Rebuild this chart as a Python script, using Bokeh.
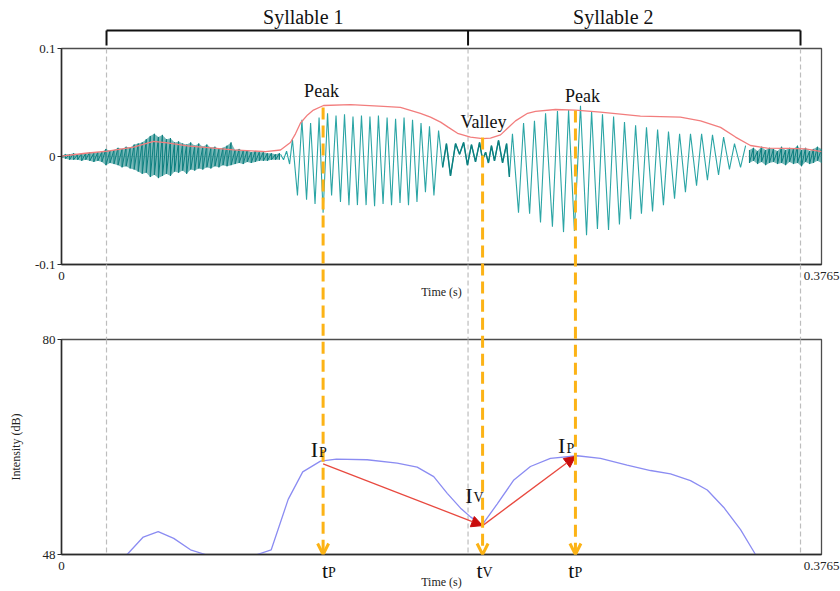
import math
from bokeh.plotting import figure
from bokeh.layouts import column
from bokeh.models import (Range1d, FixedTicker, Arrow, OpenHead, NormalHead, Span)
from bokeh.core.properties import value
from bokeh.embed import file_html
from bokeh.resources import INLINE

# ---------------- data ----------------
T_END = 0.3765
TIME_TICKS = [0, 0.3765]
WAVE_TICKS = [-0.1, 0, 0.1]
INT_TICKS = [48, 80]

# low-level noise before syllable 1 (ms, upper, lower)
noise1_ms = [0, 2, 4, 6, 8, 10, 12, 14, 16, 18, 20, 22, 24, 26, 28, 30, 32, 34, 36, 38,
             40, 42, 44, 46, 48, 50, 52, 54, 56, 58, 60, 62, 64, 66, 68, 70, 72, 74, 76, 78,
             80, 82, 84, 86, 88, 90, 92, 94, 96, 98, 100, 102, 104, 106, 108]
noise1_hi = [.001, .002, .002, .003, .002, .003, .003, .004, .003, .004,
             .004, .007, .005, .006, .008, .007, .009, .008, .011, .012,
             .013, .016, .019, .021, .018, .020, .016, .017, .013, .014,
             .012, .011, .013, .010, .012, .009, .011, .008, .009, .007,
             .008, .010, .013, .006, .007, .005, .006, .004, .005, .004,
             .004, .003, .003, .002, .003]
noise1_lo = [-.001, -.002, -.003, -.003, -.003, -.004, -.003, -.004, -.005, -.004,
             -.005, -.008, -.006, -.007, -.008, -.010, -.009, -.011, -.012, -.014,
             -.016, -.015, -.019, -.017, -.020, -.018, -.016, -.018, -.014, -.015,
             -.013, -.016, -.012, -.013, -.011, -.012, -.010, -.011, -.009, -.010,
             -.008, -.009, -.008, -.007, -.006, -.007, -.005, -.006, -.005, -.004,
             -.004, -.004, -.003, -.003, -.003]

# voiced part of syllable 1 (extrema, ms / amplitude)
syl1_ms = [108.5, 110.0, 111.5, 113.0, 114.4, 116.9, 119.1, 121.4, 123.4, 125.6,
           127.6, 129.6, 131.8, 133.8, 136.0, 138.2, 140.2, 142.4, 144.4, 146.6,
           148.6, 150.9, 152.8, 155.1, 157.0, 159.3, 161.3, 163.5, 165.5, 167.7,
           169.7, 171.9, 173.9, 176.1, 178.1, 180.3, 182.3, 184.5, 186.8]
syl1_v = [0.002, -0.003, 0.005, -0.007, 0.016, -0.036, 0.034, -0.040, 0.031, -0.044,
          0.036, -0.052, 0.040, -0.036, 0.038, -0.042, 0.039, -0.045, 0.037, -0.045,
          0.038, -0.045, 0.037, -0.046, 0.038, -0.044, 0.036, -0.045, 0.035, -0.043,
          0.036, -0.045, 0.034, -0.042, 0.031, -0.033, 0.028, -0.036, 0.024]

# transition around the valley
valley_ms = [188.8, 190.7, 192.7, 195.2, 197.2, 199.2, 201.1, 203.1, 205.1, 207.1,
             208.6, 210.1, 211.5, 213.0, 214.5, 216.5, 218.5, 220.5, 221.9]
valley_v = [-0.010, 0.012, -0.018, 0.012, 0.002, 0.013, -0.008, 0.011, -0.005, 0.013,
            -0.003, 0.004, -0.006, 0.010, -0.004, 0.015, -0.006, 0.012, -0.019]

# voiced part of syllable 2
syl2_ms = [223.4, 226.4, 228.9, 231.9, 234.3, 237.3, 239.8, 243.2, 245.7, 248.7,
           251.2, 254.1, 257.1, 260.1, 262.6, 265.5, 268.0, 271.0, 273.5, 276.4,
           278.9, 281.9, 284.4, 287.3, 289.8, 292.8, 295.3, 298.2, 300.7, 303.7,
           306.2, 309.1, 311.6, 314.6, 317.1, 320.0, 322.5, 325.5, 328.0, 330.9,
           333.4, 336.4, 338.9]
syl2_v = [0.021, -0.052, 0.031, -0.053, 0.033, -0.061, 0.040, -0.065, 0.042, -0.070,
          0.043, -0.069, 0.047, -0.073, 0.042, -0.067, 0.039, -0.068, 0.037, -0.063,
          0.032, -0.058, 0.029, -0.053, 0.027, -0.051, 0.025, -0.045, 0.023, -0.039,
          0.021, -0.033, 0.021, -0.027, 0.021, -0.022, 0.020, -0.017, 0.018, -0.012,
          0.012, -0.010, 0.010]

# trailing noise
noise2_ms = [340.8, 342.8, 344.8, 346.8, 348.8, 350.7, 352.7, 354.7, 356.7, 358.7,
             360.7, 362.6, 364.6, 366.6, 368.6, 370.6, 372.5, 374.5, 376.5]
noise2_hi = [.006, .008, .005, .009, .006, .008, .007, .005, .009, .006,
             .008, .007, .010, .006, .008, .005, .007, .009, .007]
noise2_lo = [-.006, -.004, -.007, -.005, -.008, -.006, -.005, -.007, -.006, -.008,
             -.005, -.007, -.006, -.009, -.005, -.007, -.006, -.004, -.006]

# amplitude envelope
env_ms = [0, 11.9, 22.8, 35.7, 45.6, 52.5, 62.4, 85.2, 101.1, 108.5,
          113.4, 115.9, 118.4, 121.9, 124.8, 129.8, 143.2, 159.5, 167.9, 177.8,
          182.8, 187.8, 191.7, 196.2, 202.6, 208.6, 212.5, 217.5, 221.5, 224.9,
          230.9, 234.8, 244.7, 254.6, 267.0, 286.8, 306.6, 316.6, 326.5, 333.9,
          341.3, 349.7, 359.7, 368.6, 376.5]
env_v = [0.0003, 0.0030, 0.0050, 0.0086, 0.0140, 0.0127, 0.0099, 0.0062, 0.0045, 0.0060,
         0.0130, 0.0210, 0.0310, 0.0385, 0.0430, 0.0472, 0.0480, 0.0465, 0.0455, 0.0400,
         0.0365, 0.0318, 0.0270, 0.0215, 0.0180, 0.0165, 0.0170, 0.0200, 0.0270, 0.0330,
         0.0400, 0.0417, 0.0435, 0.0430, 0.0410, 0.0373, 0.0364, 0.0330, 0.0270, 0.0180,
         0.0102, 0.0077, 0.0075, 0.0070, 0.0045]

# intensity contour (dB)
int_ms = [27.7, 32.5, 40.5, 47.9, 55.6, 63.9, 71.3, 76.3, 91.2, 96.9,
          103.9, 112.3, 119.5, 128.3, 136.2, 151.4, 166.3, 176.2, 184.4, 191.1,
          197.7, 202.6, 208.4, 215.8, 224.1, 232.3, 242.2, 255.5, 267.0, 280.2,
          291.8, 301.7, 311.6, 319.9, 328.1, 336.4, 343.8, 348.8]
int_db = [46.8, 48.0, 50.6, 51.4, 50.4, 48.7, 48.0, 46.5, 46.5, 48.0,
          48.7, 56.2, 60.3, 61.9, 62.2, 62.1, 61.6, 61.0, 59.6, 57.1,
          54.9, 53.6, 52.4, 55.5, 59.1, 61.1, 62.3, 62.7, 62.3, 61.3,
          60.5, 60.0, 59.0, 57.6, 55.0, 51.7, 48.0, 46.5]

# syllable boundaries (ms)
bound_ms = [22.3, 201.4, 366.1]
syllable_names = ["Syllable 1", "Syllable 2"]

# peak / valley / peak landmarks
mark_ms = [129.6, 208.6, 254.6]
mark_env = [0.0454, 0.0176, 0.0426]
mark_db = [61.5, 52.3, 62.6]
mark_names = ["Peak", "Valley", "Peak"]
mark_sub = ["P", "V", "P"]

# ---------------- style ----------------
SERIF = "Liberation Serif"
TEAL = "#2ba5a5"
DARK_TEAL = "#0c7f7f"
ENV_RED = "#f27d7d"
BLUE = "#8b8cf2"
ORANGE = "#fcb316"
GRAY = "#bdbdbd"
AX = "#2b2b2b"
INK = "#111111"

W = 840
H1, H2 = 310, 281
LEFT, RIGHT = 61, 19
TOP1, FRAME_H, BOT1 = 48, 216, 46
TOP2, BOT2 = 29, 36
PX_PER_WAVE = FRAME_H / 0.2          # px per amplitude unit (top panel)
PX_PER_DB = FRAME_H / 32.0           # px per dB (bottom panel)

def s(lst):
    return [v / 1000.0 for v in lst]

bound_t = s(bound_ms)
mark_t = s(mark_ms)


def style(p):
    p.grid.visible = False
    p.background_fill_color = "white"
    p.border_fill_color = "white"
    p.outline_line_color = "#4d4d4d"
    p.outline_line_width = 1.3
    for ax in (p.xaxis[0], p.yaxis[0]):
        ax.axis_line_color = AX
        ax.axis_line_width = 1.5
        ax.major_tick_line_color = AX
        ax.major_tick_in = 0
        ax.minor_tick_line_color = None
        ax.major_label_text_font = SERIF
        ax.major_label_text_font_size = "13px"
        ax.major_label_text_color = "#222222"
        ax.axis_label_text_font = SERIF
        ax.axis_label_text_font_style = "normal"
        ax.axis_label_text_font_size = "12px"
        ax.axis_label_text_color = "#222222"
    xa = p.xaxis[0]
    xa.ticker = FixedTicker(ticks=TIME_TICKS)
    xa.major_label_overrides = {TIME_TICKS[0]: "0", TIME_TICKS[1]: "0.3765"}
    xa.major_tick_out = 0
    xa.major_label_standoff = 7
    xa.axis_label = "Time (s)"
    xa.axis_label_standoff = 2
    ya = p.yaxis[0]
    ya.major_tick_out = 4
    ya.major_label_standoff = 2


def txt(p, x, y, t, size, align, dx=0, dy=0):
    """dy: offset (px, downwards) of the text baseline from the anchor point."""
    p.text(x=[x], y=[y], text=[t], x_offset=dx, y_offset=dy - 0.34 * size,
           text_align=align, text_baseline="middle", text_font=value(SERIF),
           text_font_size=f"{size}px", text_color=INK, level="overlay")


# ---------------- top panel: waveform ----------------
p1 = figure(width=W, height=H1, x_range=Range1d(0, T_END), y_range=Range1d(-0.1, 0.1),
            output_backend="svg", toolbar_location=None, tools="",
            min_border_left=LEFT, min_border_right=RIGHT,
            min_border_top=TOP1, min_border_bottom=BOT1)
style(p1)
p1.yaxis[0].ticker = FixedTicker(ticks=WAVE_TICKS)
p1.yaxis[0].major_label_overrides = {-0.1: "-0.1", 0: "0", 0.1: "0.1"}

p1.add_layout(Span(location=0, dimension="width", line_color="#9a9a9a",
                   line_dash="1 2", line_width=1, level="underlay"))
# syllable boundaries inside the frame (under the waveform)
p1.segment(x0=bound_t, x1=bound_t, y0=[0.1] * 3, y1=[-0.1] * 3,
           line_color=GRAY, line_width=1.2, line_dash="5 3")

# noise bands drawn as a dense band plus hairy strokes
for n_ms, hi, lo in ((noise1_ms, noise1_hi, noise1_lo), (noise2_ms, noise2_hi, noise2_lo)):
    nt = s(n_ms)
    p1.varea(x=nt, y1=lo, y2=hi, fill_color=DARK_TEAL, fill_alpha=0.55)
    zx, zy = [], []
    for t, a, b in zip(nt, hi, lo):
        zx += [t, t]
        zy += [a, b]
    p1.line(zx, zy, line_color=DARK_TEAL, line_width=1)

wave_ms = syl1_ms + valley_ms + syl2_ms
wave_v = syl1_v + valley_v + syl2_v
p1.line(s(wave_ms), wave_v, line_color=TEAL, line_width=1.1)
p1.line(s(valley_ms), valley_v, line_color=DARK_TEAL, line_width=1.4)

p1.line(s(env_ms), env_v, line_color=ENV_RED, line_width=1.3)

# boundary lines below the frame (continue into the lower panel)
p1.segment(x0=bound_t, x1=bound_t, y0=[-0.1] * 3, y1=[-0.2] * 3,
           line_color=GRAY, line_width=1.2, line_dash="5 3", level="overlay")
# orange dashed guides (upper part)
p1.segment(x0=mark_t, x1=mark_t, y0=mark_env, y1=[-0.3] * 3,
           line_color=ORANGE, line_width=3, line_dash="12 6", level="overlay")
# syllable bracket above the panel
br_top = 0.1 + 18 / PX_PER_WAVE
br_bot = 0.1 + 3 / PX_PER_WAVE
p1.segment(x0=[bound_t[0]] + bound_t, y0=[br_top] * 4,
           x1=[bound_t[2]] + bound_t, y1=[br_top] + [br_bot] * 3,
           line_color=INK, line_width=2, level="overlay")

for i, name in enumerate(syllable_names):
    mid = (bound_t[i] + bound_t[i + 1]) / 2
    txt(p1, mid, 0.1, name, 20, "center", dx=[16, -21][i], dy=-25)
for i, name in enumerate(mark_names):
    txt(p1, mark_t[i], mark_env[i], name, 18, "center",
        dx=[-1.5, 1, 7][i], dy=[-10, -9, -8][i])

# ---------------- bottom panel: intensity ----------------
p2 = figure(width=W, height=H2, x_range=Range1d(0, T_END), y_range=Range1d(48, 80),
            output_backend="svg", toolbar_location=None, tools="",
            min_border_left=LEFT, min_border_right=RIGHT,
            min_border_top=TOP2, min_border_bottom=BOT2)
style(p2)
p2.yaxis[0].ticker = FixedTicker(ticks=INT_TICKS)
p2.yaxis[0].major_label_overrides = {48: "48", 80: "80"}
p2.yaxis[0].axis_label = "Intensity (dB)"
p2.yaxis[0].axis_label_standoff = 17

# page y of the lower panel's top edge and the dash phase continuation
P2_TOP = H1 + TOP2
def db_at_page(y_page):
    return 80 + (P2_TOP - y_page) / PX_PER_DB

gray_start_page = (TOP1 + FRAME_H) + 8 * math.floor((H1 - (TOP1 + FRAME_H)) / 8)
p2.segment(x0=bound_t, x1=bound_t, y0=[80] * 3, y1=[48] * 3,
           line_color=GRAY, line_width=1.2, line_dash="5 3")
p2.segment(x0=bound_t, x1=bound_t, y0=[db_at_page(gray_start_page)] * 3, y1=[80] * 3,
           line_color=GRAY, line_width=1.2, line_dash="5 3", level="overlay")

p2.line(s(int_ms), int_db, line_color=BLUE, line_width=1.3)

orange_start = []
for e in mark_env:
    top_page = TOP1 + (0.1 - e) * PX_PER_WAVE
    start = top_page + 18 * math.floor((H1 - top_page) / 18)
    orange_start.append(db_at_page(start))
p2.segment(x0=mark_t, x1=mark_t, y0=orange_start, y1=[48] * 3,
           line_color=ORANGE, line_width=3, line_dash="12 6", level="overlay")
for t in mark_t:
    p2.add_layout(Arrow(end=OpenHead(size=11, line_color=ORANGE, line_width=3),
                        x_start=t, y_start=52, x_end=t, y_end=48,
                        line_alpha=0, line_width=0))

RED_LINE = "#e8493f"
RED_HEAD = "#c90c0c"
for a, b in ((0, 1), (1, 2)):
    p2.add_layout(Arrow(end=NormalHead(size=11, fill_color=RED_HEAD, line_color=RED_HEAD),
                        x_start=mark_t[a], y_start=mark_db[a], x_end=mark_t[b], y_end=mark_db[b],
                        line_color=RED_LINE, line_width=1.3))

I_off = [(-5, -7), (-10, -23), (-10, -3)]
t_off = [5, 0, -1]
for i in range(3):
    dx, dy = I_off[i]
    txt(p2, mark_t[i], mark_db[i], "I", 22, "right", dx=dx, dy=dy)
    txt(p2, mark_t[i], mark_db[i], mark_sub[i], 14, "left", dx=dx + 1, dy=dy)
    txt(p2, mark_t[i], 48, "t", 22, "right", dx=t_off[i], dy=23)
    txt(p2, mark_t[i], 48, mark_sub[i], 14, "left", dx=t_off[i], dy=23)

layout = column(p1, p2, spacing=0)
open("out.html", "w").write(file_html(layout, INLINE))
